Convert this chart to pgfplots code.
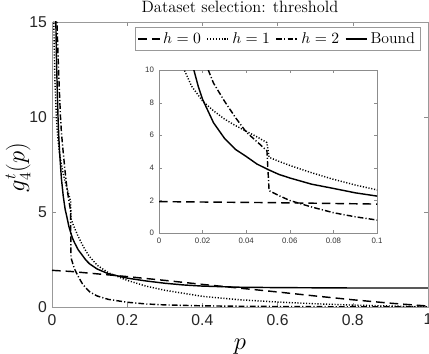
\documentclass[border=0pt]{standalone}
\usepackage{fontspec}
\newfontfamily\arial{Liberation Sans}
\usepackage{pgfplots}
\usepackage{pgfplotstable}
\pgfplotsset{compat=1.18}
\usetikzlibrary{calc}

% h = 0
\pgfplotstableread{
p g
0.000 1.93
0.050 1.87
0.100 1.78
0.200 1.60
0.300 1.40
0.400 1.19
0.500 0.99
0.600 0.79
0.700 0.58
0.800 0.38
0.900 0.20
1.000 0.05
}\hzero

% h = 1
\pgfplotstableread{
p g
0.0040 16.0
0.0060 13.5
0.0080 11.8
0.0116 10.0
0.0150 9.00
0.0200 8.10
0.0250 7.50
0.0300 7.00
0.0350 6.60
0.0400 6.25
0.0450 5.90
0.0495 5.55
0.0505 4.65
0.0550 4.40
0.0600 4.15
0.0700 3.70
0.0800 3.30
0.0900 2.95
0.1000 2.65
0.1200 2.20
0.1500 1.80
0.2000 1.40
0.2500 1.10
0.3000 0.88
0.4000 0.56
0.5000 0.38
0.6000 0.26
0.7000 0.17
0.8000 0.10
0.9000 0.05
1.0000 0.01
}\hone

% h = 2
\pgfplotstableread{
p g
0.0120 16.0
0.0140 14.5
0.0160 13.3
0.0180 12.2
0.0200 11.2
0.0226 10.0
0.0250 9.20
0.0300 8.10
0.0350 7.10
0.0400 6.20
0.0450 5.60
0.0495 5.05
0.0505 2.60
0.0550 2.30
0.0600 2.00
0.0700 1.60
0.0800 1.25
0.0900 1.00
0.1000 0.80
0.1200 0.58
0.1500 0.40
0.2000 0.25
0.2500 0.16
0.3000 0.11
0.4000 0.06
0.5000 0.04
0.6000 0.025
0.8000 0.01
1.0000 0.00
}\htwo

% bound
\pgfplotstableread{
p g
0.008 18.9
0.009 17.0
0.010 15.35
0.011 14.1
0.012 13.0
0.014 11.4
0.016 10.0
0.018 9.00
0.020 8.20
0.025 6.77
0.030 5.82
0.035 5.14
0.040 4.70
0.045 4.23
0.050 3.90
0.055 3.60
0.060 3.38
0.070 3.00
0.080 2.74
0.090 2.47
0.100 2.27
0.120 2.00
0.150 1.75
0.200 1.52
0.250 1.37
0.300 1.25
0.350 1.16
0.400 1.10
0.500 1.04
0.600 1.02
0.700 1.01
0.800 1.00
1.000 1.00
}\bound

\tikzset{
  hzero/.style={line width=1pt, dash pattern=on 6pt off 3.5pt},
  hone/.style={line width=1pt, dash pattern=on 0.8pt off 1.2pt},
  htwo/.style={line width=1pt, dash pattern=on 4pt off 1.5pt on 0.8pt off 1.5pt},
  hbound/.style={line width=1pt},
}

\begin{document}
\begin{tikzpicture}
\begin{axis}[
  scale only axis,
  width=263.2pt, height=199.5pt,
  xmin=0, xmax=1, ymin=0, ymax=15,
  xtick={0,0.2,0.4,0.6,0.8,1},
  ytick={0,5,10,15},
  xticklabel style={/pgf/number format/fixed, yshift=-1.5pt},
  tick align=inside,
  major tick length=3pt,
  axis line style={black!40},
  tick style={black!45},
  ticklabel style={font=\arial\fontsize{11}{13}\selectfont, text=black!85},
  /pgf/number format/assume math mode=true,
  xlabel={$p$}, ylabel={$g_4^t(p)$},
  label style={font=\fontsize{16}{18}\selectfont},
  xlabel style={at={(rel axis cs:0.5,-0.140)}, anchor=center},
  ylabel style={at={(rel axis cs:-0.090,0.49)}, anchor=center},
  legend columns=4,
  legend style={at={(0.979,0.982)}, anchor=north east, draw=black!40,
    font=\fontsize{11}{13}\selectfont, inner sep=1.5pt,
    /tikz/every even column/.append style={column sep=2pt}},
  legend image code/.code={\draw[#1] (0pt,0pt) -- (15pt,0pt);},
]
\addplot[hzero] table[x=p, y=g] {\hzero};
\addlegendentry{$h=0$}
\addplot[hone] table[x=p, y=g] {\hone};
\addlegendentry{$h=1$}
\addplot[htwo] table[x=p, y=g] {\htwo};
\addlegendentry{$h=2$}
\addplot[hbound] table[x=p, y=g] {\bound};
\addlegendentry{Bound}
\coordinate (O) at (rel axis cs:0,0);
\coordinate (I) at (axis cs:0.2846,3.89);
\end{axis}

\begin{axis}[
  at={(I)}, anchor=south west,
  scale only axis,
  width=152.6pt, height=114.1pt,
  xmin=0, xmax=0.1, ymin=0, ymax=10,
  xtick={0,0.02,0.04,0.06,0.08,0.1},
  ytick={0,2,4,6,8,10},
  xticklabels={0,0.02,0.04,0.06,0.08,0.1},
  tick align=inside,
  major tick length=2pt,
  axis line style={black!45},
  tick style={black!45},
  ticklabel style={font=\arial\fontsize{5.5}{6.5}\selectfont, text=black!80},
  /pgf/number format/assume math mode=true,
  axis background/.style={fill=white},
]
\addplot[hzero] table[x=p, y=g] {\hzero};
\addplot[hone] table[x=p, y=g] {\hone};
\addplot[htwo] table[x=p, y=g] {\htwo};
\addplot[hbound] table[x=p, y=g] {\bound};
\end{axis}

\node[anchor=base, font=\fontsize{11.5}{13}\selectfont, inner sep=0pt]
  at ($(O)+(131.6pt,205.8pt)$) {Dataset selection: threshold};

\pgfresetboundingbox
\path[use as bounding box] ($(O)+(-36.4pt,-32.9pt)$) rectangle ($(O)+(263.9pt,214.9pt)$);
\end{tikzpicture}
\end{document}
